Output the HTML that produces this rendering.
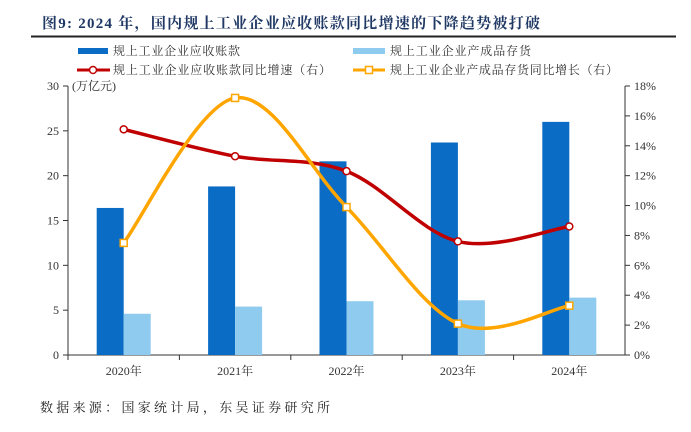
<!DOCTYPE html>
<html><head><meta charset="utf-8"><style>
body{margin:0;background:#fff;width:691px;height:427px;overflow:hidden;font-family:"Liberation Serif","Noto Serif CJK SC",serif}
</style></head><body>
<svg width="691" height="427">
<text x="42" y="28" font-size="15" font-weight="bold" fill="#1f3864" textLength="498" font-family="Liberation Serif, Noto Serif CJK SC, serif">图9:  2024 年，国内规上工业企业应收账款同比增速的下降趋势被打破</text>
<line x1="31" y1="36.5" x2="676" y2="36.5" stroke="#222" stroke-width="2"/>
<g font-size="12" fill="#333">
<rect x="78" y="48" width="30" height="6" fill="#0a6cc4"/>
<text x="113" y="55" textLength="127">规上工业企业应收账款</text>
<rect x="353" y="48" width="32" height="6" fill="#8ecbee"/>
<text x="390" y="55" textLength="141">规上工业企业产成品存货</text>
<line x1="77" y1="70" x2="110" y2="70" stroke="#c00000" stroke-width="3"/>
<circle cx="93" cy="70" r="3.5" fill="#fff" stroke="#c00000" stroke-width="1.5"/>
<text x="113" y="74" textLength="218">规上工业企业应收账款同比增速（右）</text>
<line x1="353" y1="70" x2="385" y2="70" stroke="#ffa500" stroke-width="3"/>
<rect x="365.5" y="66.5" width="7" height="7" fill="#fff" stroke="#ffa500" stroke-width="1.5"/>
<text x="390" y="74" textLength="228">规上工业企业产成品存货同比增长（右）</text>
</g>
<text x="72" y="90" font-size="12" fill="#333">(万亿元)</text>
<g id="axes"></g><g id="bars"></g><g id="lines"></g>
<text x="40" y="412" font-size="13" fill="#222" textLength="290">数据来源：国家统计局，东吴证券研究所</text>
</svg>
<script>
const categories=["2020年","2021年","2022年","2023年","2024年"];
const receivables=[16.4,18.8,21.6,23.7,26.0];
const inventory=[4.6,5.4,6.0,6.1,6.4];
const receivablesGrowth=[15.1,13.3,12.3,7.6,8.6];
const inventoryGrowth=[7.5,17.2,9.9,2.1,3.3];
const leftTicks=[0,5,10,15,20,25,30];
const rightTicks=[0,2,4,6,8,10,12,14,16,18];
const NS="http://www.w3.org/2000/svg";
const X0=68,X1=625,Y0=355,Y1=86;
const band=(X1-X0)/categories.length;
const xc=i=>X0+band*(i+0.5);
const yL=v=>Y0-(v/30)*(Y0-Y1);
const yR=v=>Y0-(v/18)*(Y0-Y1);
function mk(tag,attrs,parent){const e=document.createElementNS(NS,tag);for(const k in attrs)e.setAttribute(k,attrs[k]);document.getElementById(parent).appendChild(e);return e;}
let e;
e=mk("line",{x1:X0,y1:Y1,x2:X0,y2:Y0,stroke:"#333"},"axes");


e=mk("line",{x1:X1,y1:Y1,x2:X1,y2:Y0,stroke:"#333"},"axes");


e=mk("line",{x1:X0,y1:Y0,x2:X1,y2:Y0,stroke:"#333"},"axes");


leftTicks.forEach(v=>{const y=yL(v);mk("line",{x1:X0-5,y1:y,x2:X0,y2:y,stroke:"#333"},"axes");
e=mk("text",{x:X0-9,y:y+4,"text-anchor":"end","font-size":12,fill:"#333"},"axes");e.textContent=v;

});
rightTicks.forEach(v=>{const y=yR(v);mk("line",{x1:X1,y1:y,x2:X1+5,y2:y,stroke:"#333"},"axes");
e=mk("text",{x:X1+9,y:y+4,"font-size":12,fill:"#333"},"axes");e.textContent=v+"%";

});
categories.forEach((c,i)=>{mk("line",{x1:X0+band*i,y1:Y0,x2:X0+band*i,y2:Y0+5,stroke:"#333"},"axes");
e=mk("text",{x:xc(i),y:Y0+20,"text-anchor":"middle","font-size":12,fill:"#333"},"axes");e.textContent=c;


e=mk("rect",{x:xc(i)-27,y:yL(receivables[i]),width:27,height:Y0-yL(receivables[i]),fill:"#0a6cc4"},"bars");


e=mk("rect",{x:xc(i),y:yL(inventory[i]),width:27,height:Y0-yL(inventory[i]),fill:"#8ecbee"},"bars");

});
function smooth(pts){let d=`M${pts[0][0]},${pts[0][1]}`;for(let i=0;i<pts.length-1;i++){const p0=pts[i-1]||pts[i],p1=pts[i],p2=pts[i+1],p3=pts[i+2]||p2;const t=6;
d+=` C${p1[0]+(p2[0]-p0[0])/t},${p1[1]+(p2[1]-p0[1])/t} ${p2[0]-(p3[0]-p1[0])/t},${p2[1]-(p3[1]-p1[1])/t} ${p2[0]},${p2[1]}`;}return d;}
const rp=receivablesGrowth.map((v,i)=>[xc(i),yR(v)]);
const op=inventoryGrowth.map((v,i)=>[xc(i),yR(v)]);
e=mk("path",{d:smooth(rp),fill:"none",stroke:"#c00000","stroke-width":3.5},"lines");


e=mk("path",{d:smooth(op),fill:"none",stroke:"#ffa500","stroke-width":3.5},"lines");


rp.forEach(p=>{e=mk("circle",{cx:p[0],cy:p[1],r:3.5,fill:"#fff",stroke:"#c00000","stroke-width":1.5},"lines");

});
op.forEach(p=>{e=mk("rect",{x:p[0]-3.5,y:p[1]-3.5,width:7,height:7,fill:"#fff",stroke:"#ffa500","stroke-width":1.5},"lines");

});
</script>
</body></html>
